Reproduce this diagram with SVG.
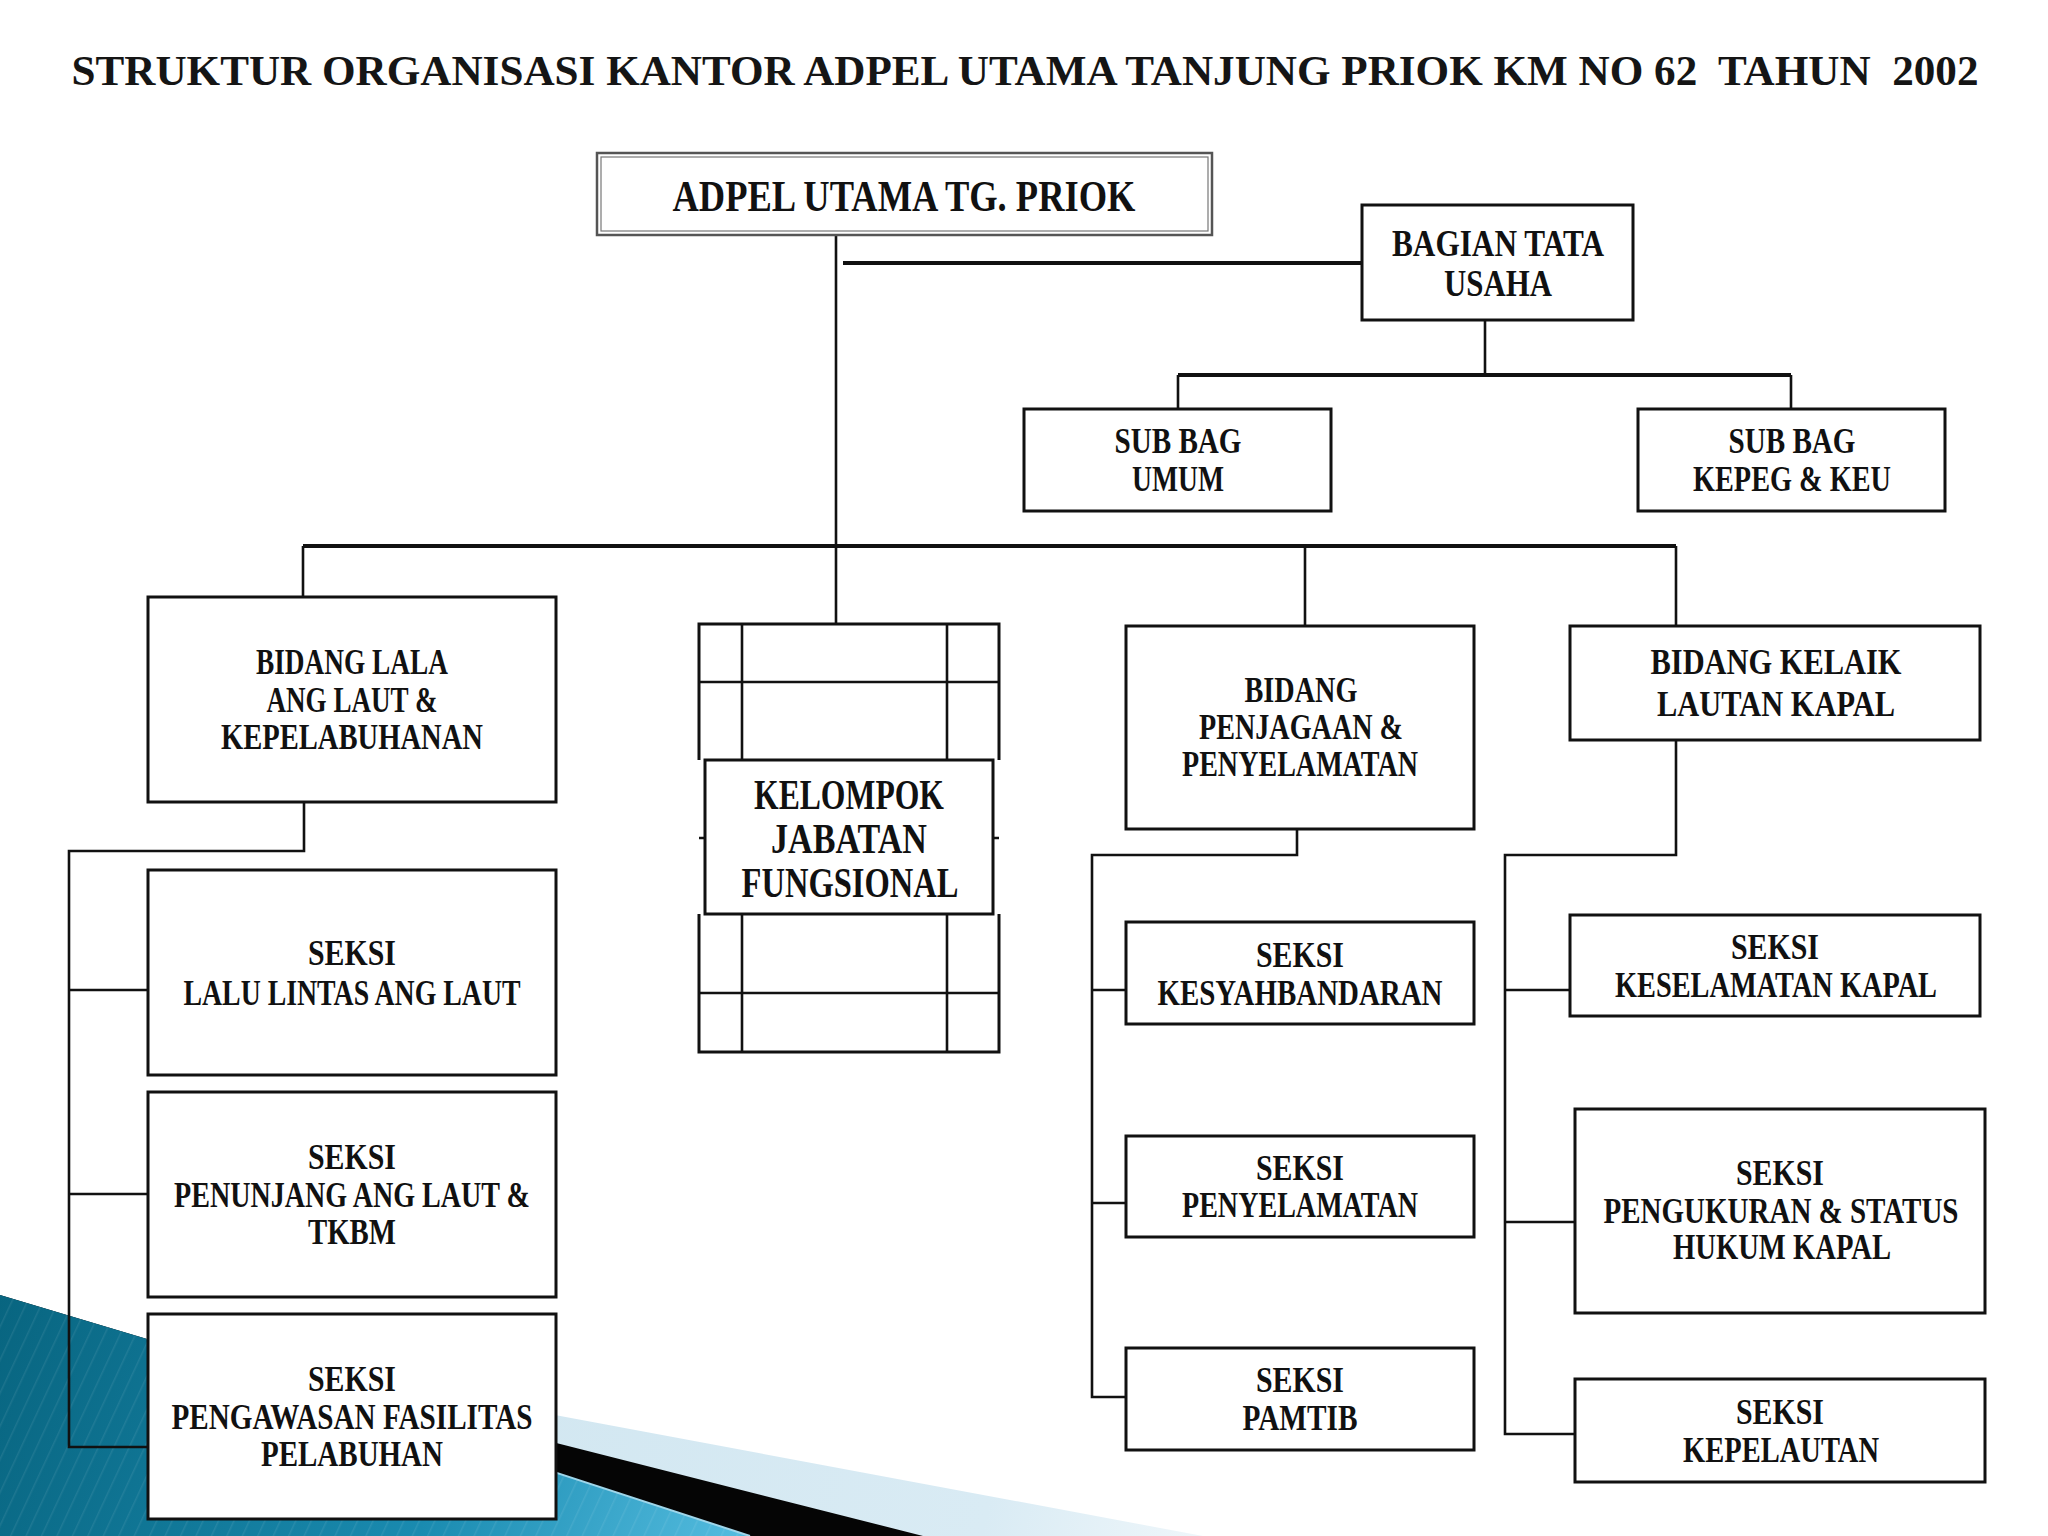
<svg xmlns="http://www.w3.org/2000/svg" width="2048" height="1536" viewBox="0 0 2048 1536">
<defs>
<style>
.box{fill:#fff;stroke:#111;stroke-width:3}
.ln{stroke:#111;stroke-width:2.6;fill:none}
.lnb{stroke:#111;stroke-width:4;fill:none}
.t{font-family:"Liberation Serif","DejaVu Serif",serif;font-weight:bold;font-size:36px;text-anchor:middle;fill:#111}
.tl{font-size:44px}
.tm{font-size:38px}
.tk{font-size:42px}
.title{font-family:"Liberation Serif","DejaVu Serif",serif;font-weight:bold;font-size:42px;fill:#151515;white-space:pre}
</style>
<linearGradient id="teal" x1="0" y1="1295" x2="750" y2="1536" gradientUnits="userSpaceOnUse">
<stop offset="0" stop-color="#086580"/>
<stop offset="0.6" stop-color="#1a8bb0"/>
<stop offset="1" stop-color="#55bde0"/>
</linearGradient>
<linearGradient id="lb" x1="500" y1="1400" x2="1200" y2="1536" gradientUnits="userSpaceOnUse">
<stop offset="0" stop-color="#d2e7f1"/>
<stop offset="0.7" stop-color="#d9ebf4"/>
<stop offset="1" stop-color="#eef6fa"/>
</linearGradient>
<pattern id="stripes" width="14" height="14" patternUnits="userSpaceOnUse" patternTransform="rotate(25)">
<rect width="14" height="14" fill="none"/>
<line x1="0" y1="0" x2="0" y2="14" stroke="#ffffff" stroke-opacity="0.08" stroke-width="3"/>
</pattern>
</defs>
<rect width="2048" height="1536" fill="#fff"/>
<g id="background">
<polygon points="0,1295 147,1339 1203,1536 0,1536" fill="url(#lb)"/>
<polygon points="0,1295 147,1339 923,1536 0,1536" fill="#050505"/>
<polygon points="0,1295 147,1339 750,1536 0,1536" fill="url(#teal)"/>
<polygon points="0,1295 147,1339 750,1536 0,1536" fill="url(#stripes)"/>
<line x1="147" y1="1339" x2="750" y2="1536" stroke="#9fd6ea" stroke-width="2"/>
</g>
<text class="title" x="1025" y="85" text-anchor="middle" textLength="1907" lengthAdjust="spacingAndGlyphs">STRUKTUR ORGANISASI KANTOR ADPEL UTAMA TANJUNG PRIOK KM NO 62  TAHUN  2002</text>
<g id="connectors">
<path class="ln" d="M836,235 V624"/>
<path class="lnb" d="M843,263 H1362"/>
<path class="ln" d="M1485,320 V375"/>
<path class="lnb" d="M1178,375 H1791"/>
<path class="ln" d="M1178,375 V409 M1791,375 V409"/>
<path class="lnb" d="M303,546 H1676"/>
<path class="ln" d="M303,546 V597 M1305,546 V626 M1676,546 V626"/>
<path class="ln" d="M304,802 V851 H69 V1447 H148 M69,990 H148 M69,1194 H148"/>
<path class="ln" d="M1297,829 V855 H1092 V1397 H1126 M1092,990 H1126 M1092,1203 H1126"/>
<path class="ln" d="M1676,740 V855 H1505 V1434 H1575 M1505,990 H1570 M1505,1222 H1575"/>
</g>
<g id="adpel">
<rect x="597" y="153" width="615" height="82" fill="#fff" stroke="#555" stroke-width="2.5"/>
<rect x="601" y="157" width="607" height="74" fill="none" stroke="#777" stroke-width="1.2"/>
<text class="t tl" x="904" y="211" textLength="463" lengthAdjust="spacingAndGlyphs">ADPEL UTAMA TG. PRIOK</text>
</g>
<g id="tata-usaha">
<rect class="box" x="1362" y="205" width="271" height="115"/>
<text class="t tm" x="1498" y="256" textLength="212" lengthAdjust="spacingAndGlyphs">BAGIAN TATA</text>
<text class="t tm" x="1498" y="296" textLength="108" lengthAdjust="spacingAndGlyphs">USAHA</text>
</g>
<g id="subbag-umum">
<rect class="box" x="1024" y="409" width="307" height="102"/>
<text class="t" x="1178" y="453" textLength="127" lengthAdjust="spacingAndGlyphs">SUB BAG</text>
<text class="t" x="1178" y="491" textLength="92" lengthAdjust="spacingAndGlyphs">UMUM</text>
</g>
<g id="subbag-kepeg">
<rect class="box" x="1638" y="409" width="307" height="102"/>
<text class="t" x="1792" y="453" textLength="127" lengthAdjust="spacingAndGlyphs">SUB BAG</text>
<text class="t" x="1792" y="491" textLength="198" lengthAdjust="spacingAndGlyphs">KEPEG &amp; KEU</text>
</g>
<g id="bidang-lala">
<rect class="box" x="148" y="597" width="408" height="205"/>
<text class="t" x="352" y="674" textLength="192" lengthAdjust="spacingAndGlyphs">BIDANG LALA</text>
<text class="t" x="352" y="712" textLength="171" lengthAdjust="spacingAndGlyphs">ANG LAUT &amp;</text>
<text class="t" x="352" y="749" textLength="262" lengthAdjust="spacingAndGlyphs">KEPELABUHANAN</text>
</g>
<g id="seksi-lalu-lintas">
<rect class="box" x="148" y="870" width="408" height="205"/>
<text class="t" x="352" y="965" textLength="88" lengthAdjust="spacingAndGlyphs">SEKSI</text>
<text class="t" x="352" y="1005" textLength="337" lengthAdjust="spacingAndGlyphs">LALU LINTAS ANG LAUT</text>
</g>
<g id="seksi-penunjang">
<rect class="box" x="148" y="1092" width="408" height="205"/>
<text class="t" x="352" y="1169" textLength="88" lengthAdjust="spacingAndGlyphs">SEKSI</text>
<text class="t" x="352" y="1207" textLength="356" lengthAdjust="spacingAndGlyphs">PENUNJANG ANG LAUT &amp;</text>
<text class="t" x="352" y="1244" textLength="88" lengthAdjust="spacingAndGlyphs">TKBM</text>
</g>
<g id="seksi-pengawasan">
<rect class="box" x="148" y="1314" width="408" height="205"/>
<text class="t" x="352" y="1391" textLength="88" lengthAdjust="spacingAndGlyphs">SEKSI</text>
<text class="t" x="352" y="1429" textLength="361" lengthAdjust="spacingAndGlyphs">PENGAWASAN FASILITAS</text>
<text class="t" x="352" y="1466" textLength="182" lengthAdjust="spacingAndGlyphs">PELABUHAN</text>
</g>
<g id="kelompok-jabatan">
<rect x="699" y="624" width="300" height="428" fill="#fff" stroke="#111" stroke-width="3"/>
<path class="ln" d="M742,624 V1052 M947,624 V1052 M699,682 H999 M699,993 H999"/>
<rect x="694" y="760" width="310" height="154" fill="#fff"/>
<path class="ln" d="M699,838 H705 M993,838 H999"/>
<rect class="box" x="705" y="760" width="288" height="154"/>
<text class="t tk" x="849" y="809" textLength="190" lengthAdjust="spacingAndGlyphs">KELOMPOK</text>
<text class="t tk" x="849" y="853" textLength="156" lengthAdjust="spacingAndGlyphs">JABATAN</text>
<text class="t tk" x="850" y="897" textLength="217" lengthAdjust="spacingAndGlyphs">FUNGSIONAL</text>
</g>
<g id="bidang-penjagaan">
<rect class="box" x="1126" y="626" width="348" height="203"/>
<text class="t" x="1301" y="702" textLength="113" lengthAdjust="spacingAndGlyphs">BIDANG</text>
<text class="t" x="1301" y="739" textLength="204" lengthAdjust="spacingAndGlyphs">PENJAGAAN &amp;</text>
<text class="t" x="1300" y="776" textLength="236" lengthAdjust="spacingAndGlyphs">PENYELAMATAN</text>
</g>
<g id="seksi-kesyahbandaran">
<rect class="box" x="1126" y="922" width="348" height="102"/>
<text class="t" x="1300" y="967" textLength="88" lengthAdjust="spacingAndGlyphs">SEKSI</text>
<text class="t" x="1300" y="1005" textLength="285" lengthAdjust="spacingAndGlyphs">KESYAHBANDARAN</text>
</g>
<g id="seksi-penyelamatan">
<rect class="box" x="1126" y="1136" width="348" height="101"/>
<text class="t" x="1300" y="1180" textLength="88" lengthAdjust="spacingAndGlyphs">SEKSI</text>
<text class="t" x="1300" y="1217" textLength="236" lengthAdjust="spacingAndGlyphs">PENYELAMATAN</text>
</g>
<g id="seksi-pamtib">
<rect class="box" x="1126" y="1348" width="348" height="102"/>
<text class="t" x="1300" y="1392" textLength="88" lengthAdjust="spacingAndGlyphs">SEKSI</text>
<text class="t" x="1300" y="1430" textLength="115" lengthAdjust="spacingAndGlyphs">PAMTIB</text>
</g>
<g id="bidang-kelaik">
<rect class="box" x="1570" y="626" width="410" height="114"/>
<text class="t" x="1776" y="674" textLength="251" lengthAdjust="spacingAndGlyphs">BIDANG KELAIK</text>
<text class="t" x="1776" y="716" textLength="238" lengthAdjust="spacingAndGlyphs">LAUTAN KAPAL</text>
</g>
<g id="seksi-keselamatan">
<rect class="box" x="1570" y="915" width="410" height="101"/>
<text class="t" x="1775" y="959" textLength="88" lengthAdjust="spacingAndGlyphs">SEKSI</text>
<text class="t" x="1776" y="997" textLength="322" lengthAdjust="spacingAndGlyphs">KESELAMATAN KAPAL</text>
</g>
<g id="seksi-pengukuran">
<rect class="box" x="1575" y="1109" width="410" height="204"/>
<text class="t" x="1780" y="1185" textLength="88" lengthAdjust="spacingAndGlyphs">SEKSI</text>
<text class="t" x="1781" y="1223" textLength="355" lengthAdjust="spacingAndGlyphs">PENGUKURAN &amp; STATUS</text>
<text class="t" x="1782" y="1259" textLength="218" lengthAdjust="spacingAndGlyphs">HUKUM KAPAL</text>
</g>
<g id="seksi-kepelautan">
<rect class="box" x="1575" y="1379" width="410" height="103"/>
<text class="t" x="1780" y="1424" textLength="88" lengthAdjust="spacingAndGlyphs">SEKSI</text>
<text class="t" x="1781" y="1462" textLength="196" lengthAdjust="spacingAndGlyphs">KEPELAUTAN</text>
</g>
</svg>
